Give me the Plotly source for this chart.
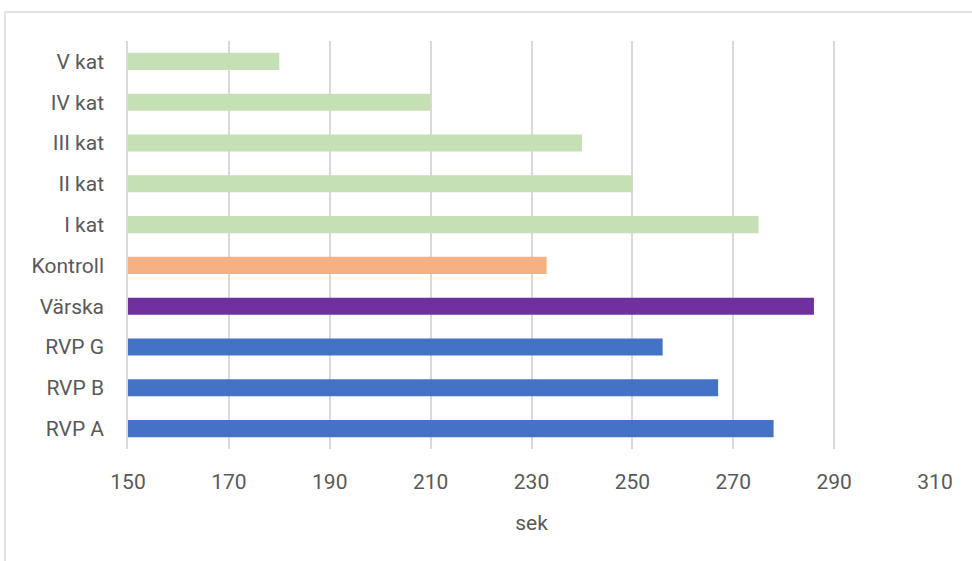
import plotly.graph_objects as go

categories = ["RVP A", "RVP B", "RVP G", "Värska", "Kontroll",
              "I kat", "II kat", "III kat", "IV kat", "V kat"]
values = [278, 267, 256, 286, 233, 275, 250, 240, 210, 180]
colors = ["#4472C4", "#4472C4", "#4472C4", "#7030A0", "#F4B183",
          "#C5E0B4", "#C5E0B4", "#C5E0B4", "#C5E0B4", "#C5E0B4"]
x_ticks = [150, 170, 190, 210, 230, 250, 270, 290, 310]
x_title = "sek"

FONT = "Roboto, sans-serif"
GREY = "#595959"
SIZE = 21

fig = go.Figure(go.Bar(
    y=categories,
    x=values,
    orientation="h",
    base=0,
    marker=dict(color=colors, line=dict(width=0)),
    width=0.42,
))

fig.update_layout(
    width=972, height=561,
    margin=dict(l=128, r=37, t=41, b=112),
    paper_bgcolor="white", plot_bgcolor="white",
    showlegend=False,
    font=dict(family=FONT, color=GREY, size=SIZE),
    xaxis=dict(
        range=[150, 310], tickvals=x_ticks, ticktext=[str(v) for v in x_ticks],
        showgrid=True, gridcolor="#D9D9D9", gridwidth=1.5,
        zeroline=False, showline=False, ticks="",
        ticklabelstandoff=18,
        tickfont=dict(family=FONT, size=SIZE, color=GREY),
        title=dict(text=x_title, font=dict(family=FONT, size=SIZE, color=GREY), standoff=22),
    ),
    yaxis=dict(
        categoryorder="array", categoryarray=categories,
        showgrid=False, zeroline=False,
        showline=True, linecolor="#D9D9D9", linewidth=1.5,
        ticks="", ticklabelstandoff=18,
        tickfont=dict(family=FONT, size=SIZE, color=GREY),
    ),
    shapes=[dict(
        type="rect", xref="paper", yref="paper",
        x0=(5 - 128) / 807, x1=(980 - 128) / 807,
        y0=(449 - 570) / 408, y1=(449 - 12) / 408,
        line=dict(color="#D9D9D9", width=1.5), fillcolor="rgba(0,0,0,0)",
        layer="below",
    )],
)

fig.write_html("out.html")
